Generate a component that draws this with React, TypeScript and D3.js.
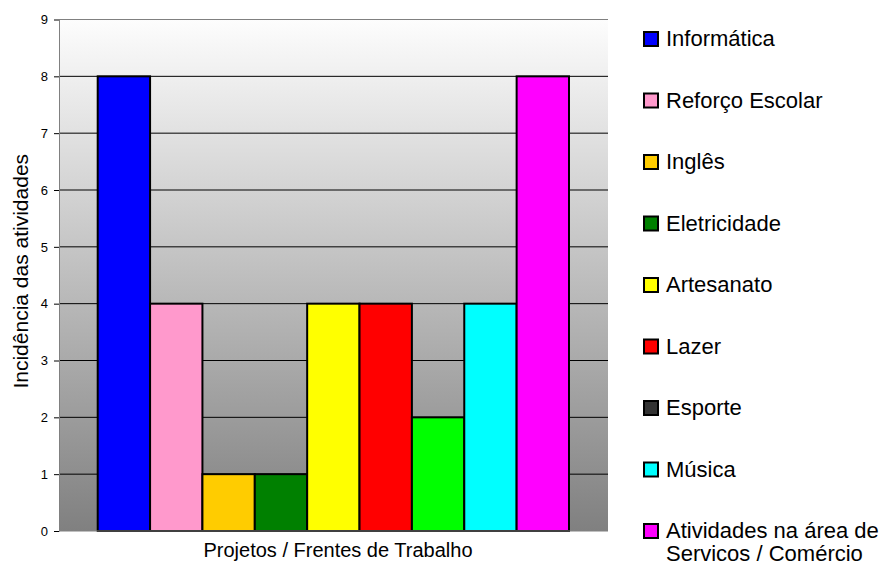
import { useEffect, useRef } from "react";
import * as d3 from "d3";

const categories = [
  "Informática",
  "Reforço Escolar",
  "Inglês",
  "Eletricidade",
  "Artesanato",
  "Lazer",
  "Esporte",
  "Música",
  "Atividades na área de\nServicos / Comércio",
];
const values = [8, 4, 1, 1, 4, 4, 2, 4, 8];
const barColors = ["#0000ff", "#ff99cc", "#ffcc00", "#008000", "#ffff00", "#ff0000", "#00ff00", "#00ffff", "#ff00ff"];
const legendColors = ["#0000ff", "#ff99cc", "#ffcc00", "#008000", "#ffff00", "#ff0000", "#333333", "#00ffff", "#ff00ff"];
const yTicks = [0, 1, 2, 3, 4, 5, 6, 7, 8, 9];

const FONT = "'Liberation Sans', Arial, sans-serif";

export default function App() {
  const ref = useRef<SVGSVGElement | null>(null);

  useEffect(() => {
    const width = 886;
    const height = 567;
    const plot = { left: 59, right: 608, top: 19.5, bottom: 531 };

    const svg = d3.select(ref.current).attr("width", width).attr("height", height);
    svg.selectAll("*").remove();

    const defs = svg.append("defs");
    const grad = defs
      .append("linearGradient")
      .attr("id", "bg")
      .attr("x1", 0)
      .attr("y1", 0)
      .attr("x2", 0)
      .attr("y2", 1);
    grad.append("stop").attr("offset", "0%").attr("stop-color", "#fdfdfd");
    grad.append("stop").attr("offset", "100%").attr("stop-color", "#808080");

    const y = d3.scaleLinear().domain([0, 9]).range([plot.bottom, plot.top]);
    const x = d3
      .scaleBand<string>()
      .domain(categories)
      .range([97.7, 569])
      .paddingInner(0);

    svg
      .append("rect")
      .attr("x", plot.left)
      .attr("y", plot.top)
      .attr("width", plot.right - plot.left)
      .attr("height", plot.bottom - plot.top)
      .attr("fill", "url(#bg)");

    // gridlines
    svg
      .append("g")
      .selectAll("line")
      .data(yTicks.filter((t) => t > 0 && t < 9))
      .enter()
      .append("line")
      .attr("x1", plot.left)
      .attr("x2", plot.right)
      .attr("y1", (d) => y(d))
      .attr("y2", (d) => y(d))
      .attr("stroke", "#000")
      .attr("stroke-width", 1);

    // top border
    svg
      .append("line")
      .attr("x1", plot.left)
      .attr("x2", plot.right)
      .attr("y1", y(9))
      .attr("y2", y(9))
      .attr("stroke", "#808080")
      .attr("stroke-width", 1);

    // bars
    svg
      .append("g")
      .selectAll("rect")
      .data(values)
      .enter()
      .append("rect")
      .attr("x", (_d, i) => x(categories[i])!)
      .attr("y", (d) => y(d))
      .attr("width", x.bandwidth())
      .attr("height", (d) => y(0) - y(d))
      .attr("fill", (_d, i) => barColors[i])
      .attr("stroke", "#000")
      .attr("stroke-width", 2);

    // y axis
    const yAxis = svg
      .append("g")
      .attr("transform", `translate(${plot.left}, 0)`)
      .call(d3.axisLeft(y).tickValues(yTicks).tickSize(5).tickPadding(6).tickSizeOuter(0));
    yAxis.select(".domain").attr("stroke", "#808080");
    yAxis.selectAll(".tick line").attr("stroke", "#000");
    yAxis.selectAll("text").attr("font-family", FONT).attr("font-size", 13).attr("fill", "#000");

    // bottom line
    svg
      .append("line")
      .attr("x1", plot.left)
      .attr("x2", plot.right)
      .attr("y1", y(0))
      .attr("y2", y(0))
      .attr("stroke", "#808080");

    // axis titles
    svg
      .append("text")
      .attr("transform", `translate(28, ${(plot.top + plot.bottom) / 2 - 4}) rotate(-90)`)
      .attr("text-anchor", "middle")
      .attr("font-family", FONT)
      .attr("font-size", 21)
      .text("Incidência das atividades");

    svg
      .append("text")
      .attr("x", 338)
      .attr("y", 557)
      .attr("text-anchor", "middle")
      .attr("font-family", FONT)
      .attr("font-size", 20)
      .text("Projetos / Frentes de Trabalho");

    // legend
    const legend = svg
      .append("g")
      .selectAll("g")
      .data(categories)
      .enter()
      .append("g")
      .attr("transform", (_d, i) => `translate(644, ${39 + i * 61.5})`);

    legend
      .append("rect")
      .attr("x", 0)
      .attr("y", -7)
      .attr("width", 14)
      .attr("height", 14)
      .attr("fill", (_d, i) => legendColors[i])
      .attr("stroke", "#000")
      .attr("stroke-width", 2);

    legend
      .append("text")
      .attr("x", 22)
      .attr("y", 7)
      .attr("font-family", FONT)
      .attr("font-size", 22)
      .selectAll("tspan")
      .data((d) => d.split("\n"))
      .enter()
      .append("tspan")
      .attr("x", 22)
      .attr("dy", (_d, i) => (i === 0 ? 0 : 23))
      .text((d) => d);
  }, []);

  return <svg ref={ref} style={{ position: "absolute", left: 0, top: 0, display: "block" }} />;
}
